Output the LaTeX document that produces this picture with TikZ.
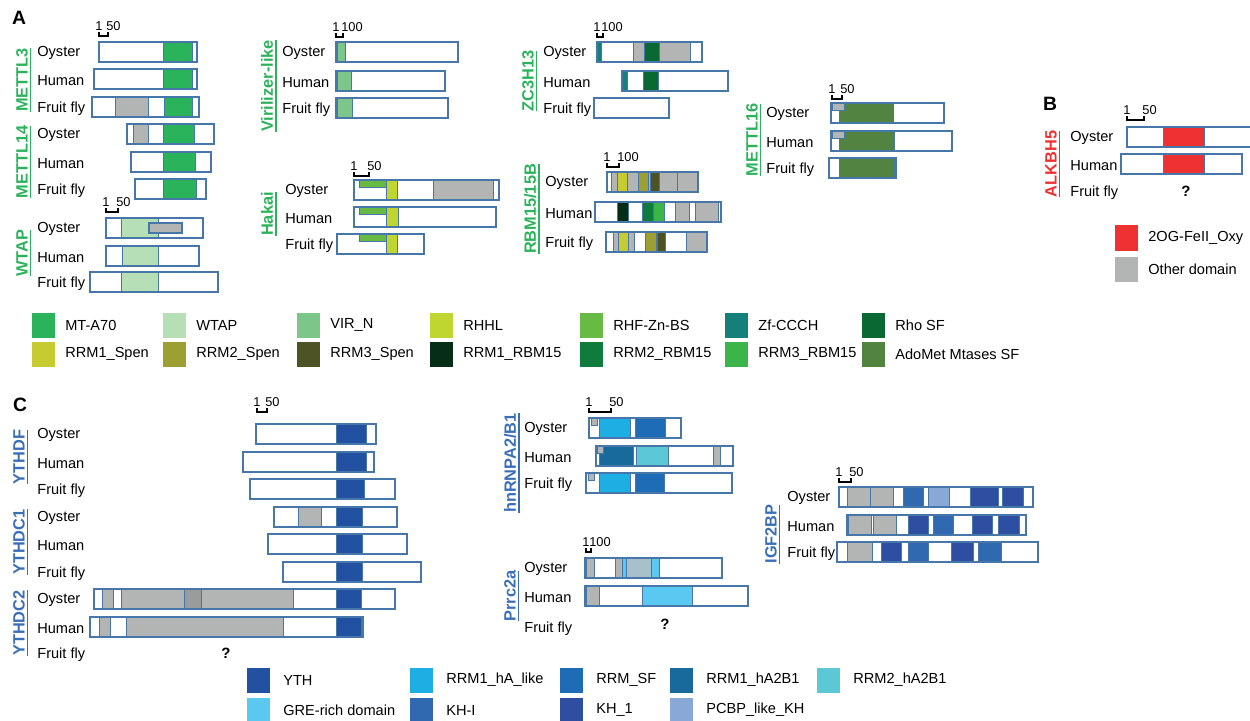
\documentclass[tikz,border=0pt]{standalone}
\usepackage{fontspec}
\setmainfont{Liberation Sans}
\usetikzlibrary{positioning}
\definecolor{bbar}{HTML}{4677A8}
\definecolor{glab}{HTML}{2BB35B}
\definecolor{rlab}{HTML}{EE3131}
\definecolor{blab}{HTML}{3A6FB7}
\definecolor{mta}{HTML}{2BB35B}
\definecolor{wtapc}{HTML}{B7DFB5}
\definecolor{virn}{HTML}{7CC68A}
\definecolor{rhhl}{HTML}{BFD630}
\definecolor{rhf}{HTML}{67BB45}
\definecolor{zf}{HTML}{158079}
\definecolor{rho}{HTML}{0A6833}
\definecolor{spen1}{HTML}{C6CC2F}
\definecolor{spen2}{HTML}{9D9F33}
\definecolor{spen3}{HTML}{4E5323}
\definecolor{rbm1}{HTML}{062E17}
\definecolor{rbm2}{HTML}{0F7C3E}
\definecolor{rbm3}{HTML}{3BB54A}
\definecolor{adomet}{HTML}{528340}
\definecolor{othg}{HTML}{B3B5B5}
\definecolor{dgray}{HTML}{9A9C9C}
\definecolor{oxy}{HTML}{EE3131}
\definecolor{yth}{HTML}{2251A1}
\definecolor{rrmha}{HTML}{1DAEE3}
\definecolor{rrmsf}{HTML}{1F6CB6}
\definecolor{rrm1ab}{HTML}{176A9B}
\definecolor{rrm2ab}{HTML}{5CC8D5}
\definecolor{gre}{HTML}{5BC8F2}
\definecolor{khi}{HTML}{3169B0}
\definecolor{kh1}{HTML}{2E4FA1}
\definecolor{pcbp}{HTML}{88A9D8}
\definecolor{grblue}{HTML}{A8C0CC}
\tikzset{
    barbox/.style={draw=bbar, line width=0.8pt, fill=white},
    barline/.style={draw=bbar, line width=0.8pt},
    dombox/.style={draw=bbar, line width=0.4pt},
    spec/.style={anchor=west, inner sep=0pt, yshift=-0.8pt, font=\fontsize{8.3}{10}\selectfont},
    gene/.style={rotate=90, inner sep=0pt, outer sep=0pt, font=\fontsize{9.3}{11}\selectfont\bfseries},
    numlab/.style={inner sep=0pt, font=\fontsize{7.3}{9}\selectfont},
    scalebar/.style={line width=0.6pt},
    legtext/.style={anchor=west, inner sep=0pt, font=\fontsize{8.3}{10}\selectfont},
    panel/.style={inner sep=0pt, font=\fontsize{11}{13}\selectfont\bfseries},
    unk/.style={inner sep=0pt, font=\fontsize{8.5}{10}\selectfont\bfseries},
}
\newcommand{\protbox}[3]{\draw[barbox] (#2,#1-10) rectangle (#3,#1+10);}
\newcommand{\protein}[4]{%
    \fill[white] (#2,#1-10) rectangle (#3,#1+10);
    \foreach \dcol/\dxa/\dxb in {#4}{\draw[dombox, fill=\dcol] (\dxa,#1-10) rectangle (\dxb,#1+10);}
    \draw[barline] (#2,#1-10) rectangle (#3,#1+10);}
\newcommand{\topdom}[4]{\draw[dombox, fill=#1] (#3,#2-10) rectangle (#4,#2-3);}
\newcommand{\scalemark}[5]{%
    \draw[scalebar] (#1,#3-4) -- (#1,#3) -- (#2,#3) -- (#2,#3-4);
    \node[numlab, anchor=south] (#5a) at (#1,#3-5) {1};
    \node[numlab, anchor=south west] (#5b) at (#2-2,#3-5) {#4};}
\newcommand{\species}[5]{%
    \node[spec] (#5o) at (#1,#2) {Oyster};
    \node[spec] (#5h) at (#1,#3) {Human};
    \node[spec] (#5f) at (#1,#4) {Fruit fly};}
\newcommand{\genelab}[5]{%
    \node[gene, text=#1] (#5) at (#2,#3) {#4};
    \draw[#1, line width=0.8pt] ([xshift=1.6pt]#5.south west) -- ([xshift=1.6pt]#5.south east);}

\begin{document}
\begin{tikzpicture}[x=0.02cm, y=-0.02cm]
    \useasboundingbox (0,0) rectangle (1250,720);
    \fill[white] (0,0) rectangle (1250,720);

    % panel A
    \node[panel] (pa) at (19,18) {A};
    \genelab{glab}{22}{80}{METTL3}{gm3}
    \genelab{glab}{22}{162}{METTL14}{gm14}
    \genelab{glab}{22}{253}{WTAP}{gwtap}
    \species{37}{52}{79}{107}{m3}
    \species{37}{134}{162}{189}{m14}
    \species{37}{228}{256}{282}{wt}
    \scalemark{99}{108}{36}{50}{sm3}
    \protein{52}{99}{197}{mta/163/192}
    \protein{79}{94}{197}{mta/163/192}
    \protein{107}{92}{199}{othg/115/148, mta/164/192}
    \protein{134}{127}{214}{othg/133/148, mta/163/194}
    \protein{162}{131}{211}{mta/163/195}
    \protein{189}{135}{206}{mta/163/196}
    \scalemark{106}{118}{212}{50}{swt}
    \protein{228}{106}{203}{wtapc/121/158}
    \draw[barline, fill=othg] (149,223) rectangle (182,233);
    \protein{256}{106}{199}{wtapc/122/158}
    \protein{282}{90}{218}{wtapc/121/158}

    \genelab{glab}{267}{86}{Virilizer-like}{gvir}
    \species{282}{52}{81}{108}{vi}
    \scalemark{336}{343}{37}{100}{svi}
    \protein{52}{336}{458}{virn/337/345}
    \protein{81}{336}{445}{virn/337/351}
    \protein{108}{336}{448}{virn/337/352}

    \genelab{glab}{267}{214}{Hakai}{ghk}
    \species{285}{190}{217}{244}{hk}
    \scalemark{354}{369}{176}{50}{shk}
    \protein{190}{354}{499}{rhhl/386/397, othg/433/493}
    \topdom{rhf}{190}{359}{386}
    \protein{217}{354}{496}{rhhl/386/398}
    \topdom{rhf}{217}{359}{386}
    \protein{244}{337}{424}{rhhl/386/397}
    \topdom{rhf}{244}{359}{386}

    \genelab{glab}{528}{81}{ZC3H13}{gzc}
    \species{543}{52}{81}{108}{zc}
    \scalemark{597}{603}{37}{100}{szc}
    \protein{52}{597}{702}{zf/597/601, othg/633/644, rho/644/659, othg/659/690}
    \protein{81}{622}{728}{zf/622/627, rho/643/658}
    \protbox{108}{594}{669}

    \genelab{glab}{530}{209}{RBM15/15B}{grbm}
    \species{545}{182}{212}{242}{rb}
    \scalemark{607}{619}{167}{100}{srb}
    \protein{182}{607}{698}{othg/611/617, spen1/617/627, othg/627/638, spen2/638/648, othg/648/650, spen3/650/659, othg/659/677, othg/677/698}
    \protein{212}{595}{721}{rbm1/617/628, rbm2/642/653, rbm3/653/664, othg/675/689, othg/695/718}
    \protein{242}{606}{707}{othg/613/618, spen1/618/628, othg/628/634, spen2/645/656, spen3/657/665, othg/686/707}

    \genelab{glab}{752}{140}{METTL16}{gm16}
    \species{766}{113}{141}{168}{m16}
    \scalemark{832}{842}{99}{50}{sm16}
    \protein{113}{831}{944}{adomet/839/893}
    \topdom{othg}{113}{832}{844}
    \protein{141}{831}{952}{adomet/839/894}
    \topdom{othg}{141}{832}{844}
    \protein{168}{829}{896}{adomet/839/894}

    % panel B
    \node[panel] (pb) at (1050,104) {B};
    \genelab{rlab}{1051}{164}{ALKBH5}{galk}
    \species{1070}{137}{164}{191}{al}
    \scalemark{1127}{1144}{120}{50}{sal}
    \protein{137}{1127}{1262}{oxy/1163/1204}
    \protein{164}{1121}{1242}{oxy/1163/1204}
    \node[unk] (qal) at (1186,191) {?};
    \fill[oxy] (1115,225) rectangle (1138,251);
    \node[legtext] (lox) at (1148,238) {2OG-FeII\_Oxy};
    \fill[othg] (1115,257) rectangle (1138,282);
    \node[legtext] (lot) at (1148,269) {Other domain};

    \foreach \lc/\lx/\ly/\lt/\ln in {mta/32/325/MT-A70/la1, wtapc/163/325/WTAP/la2, virn/297/325/VIR\_N/la3, rhhl/430/325/RHHL/la4, rhf/580/325/RHF-Zn-BS/la5, zf/725/325/Zf-CCCH/la6, rho/862/325/Rho SF/la7,
        spen1/32/354/RRM1\_Spen/lb1, spen2/163/354/RRM2\_Spen/lb2, spen3/297/354/RRM3\_Spen/lb3, rbm1/430/354/RRM1\_RBM15/lb4, rbm2/580/354/RRM2\_RBM15/lb5, rbm3/725/354/RRM3\_RBM15/lb6, adomet/862/354/AdoMet Mtases SF/lb7}{
        \fill[\lc] (\lx,\ly-12) rectangle (\lx+23,\ly+13);
        \node[legtext] (\ln) at (\lx+33,\ly) {\lt};
    }

    % panel C
    \node[panel] (pc) at (20,405) {C};
    \genelab{blab}{19}{457}{YTHDF}{gydf}
    \genelab{blab}{19}{542}{YTHDC1}{gyc1}
    \genelab{blab}{19}{623}{YTHDC2}{gyc2}
    \species{37}{434}{462}{489}{df}
    \species{37}{517}{544}{572}{dc1}
    \species{37}{599}{627}{653}{dc2}
    \scalemark{257}{267}{412}{50}{syt}
    \protein{434}{256}{376}{yth/336/366}
    \protein{462}{243}{374}{yth/336/366}
    \protein{489}{250}{395}{yth/336/364}
    \protein{517}{274}{397}{othg/298/321, yth/336/362}
    \protein{544}{268}{407}{yth/336/362}
    \protein{572}{283}{421}{yth/336/362}
    \protein{599}{94}{395}{othg/102/113, othg/121/184, dgray/184/201, othg/201/293, yth/336/361}
    \protein{627}{90}{363}{othg/99/110, othg/126/283, yth/336/361}
    \node[unk] (qyt) at (226,653) {?};

    \genelab{blab}{510}{463}{hnRNPA2/B1}{ghn}
    \species{524}{428}{456}{483}{hn}
    \scalemark{589}{611}{412}{50}{shn}
    \protein{428}{589}{681}{rrmha/599/630, rrmsf/635/665}
    \topdom{othg}{428}{591}{597}
    \protein{456}{596}{733}{rrm1ab/599/633, rrm2ab/636/668, othg/713/720}
    \topdom{othg}{456}{597}{603}
    \protein{483}{586}{732}{rrmha/599/630, rrmsf/635/664}
    \topdom{othg}{483}{588}{594}

    \genelab{blab}{510}{596}{Prrc2a}{gpr}
    \species{524}{568}{596}{627}{pr}
    \scalemark{586}{591}{552}{100}{spr}
    \protein{568}{585}{722}{othg/586/594, othg/615/622, gre/622/626, grblue/626/651, gre/651/659}
    \protein{596}{585}{748}{othg/586/599, gre/642/692}
    \node[unk] (qpr) at (665,624) {?};

    \genelab{blab}{771}{534}{IGF2BP}{gig}
    \species{787}{497}{525}{552}{ig}
    \scalemark{839}{851}{482}{50}{sig}
    \protein{497}{839}{1033}{othg/847/870, othg/870/893, khi/903/923, pcbp/928/949, kh1/970/998, kh1/1002/1023}
    \protein{525}{847}{1026}{othg/848/871, othg/873/896, kh1/908/928, khi/933/953, kh1/972/992, kh1/998/1019}
    \protein{552}{837}{1038}{othg/847/872, kh1/881/901, khi/908/928, kh1/951/973, khi/978/1001}

    \foreach \lc/\lx/\ly/\lt/\ln in {yth/247/680/YTH/lc1, rrmha/410/680/RRM1\_hA\_like/lc2, rrmsf/560/680/RRM\_SF/lc3, rrm1ab/670/680/RRM1\_hA2B1/lc4, rrm2ab/817/680/RRM2\_hA2B1/lc5,
        gre/247/710/GRE-rich domain/ld1, khi/410/710/KH-I/ld2, kh1/560/710/KH\_1/ld3, pcbp/670/710/PCBP\_like\_KH/ld4}{
        \fill[\lc] (\lx,\ly-12) rectangle (\lx+23,\ly+13);
        \node[legtext] (\ln) at (\lx+36,\ly) {\lt};
    }
\end{tikzpicture}
\end{document}
